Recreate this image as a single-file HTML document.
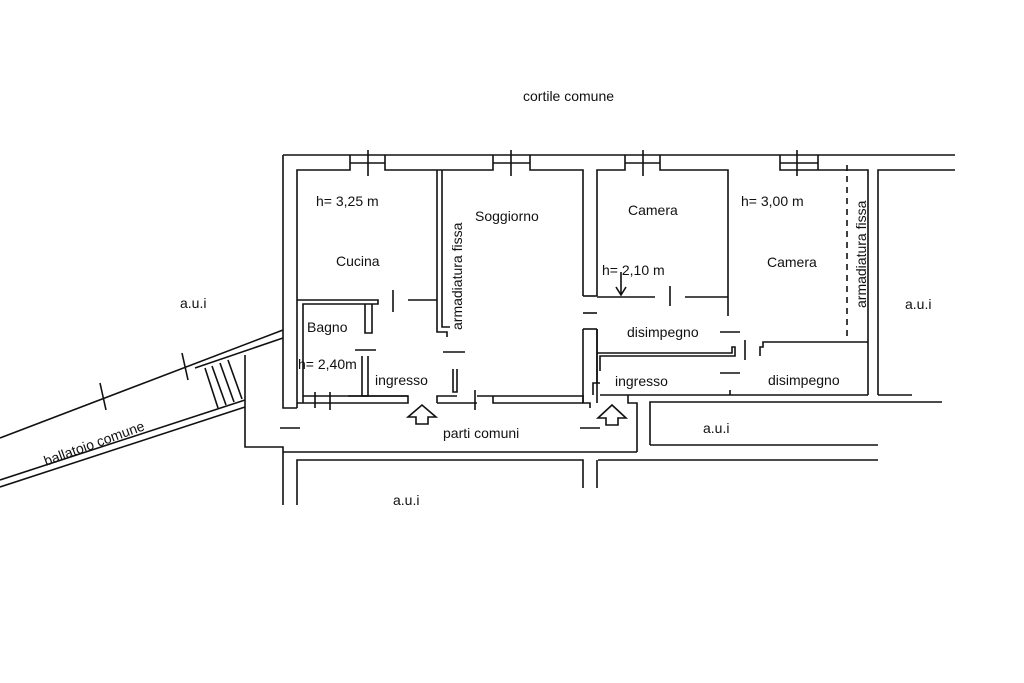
<!DOCTYPE html>
<html><head><meta charset="utf-8"><style>
html,body{margin:0;padding:0;background:#fff}
svg{display:block}
text{font-family:"Liberation Sans",sans-serif;font-size:14px;fill:#111}
</style></head><body>
<svg width="1024" height="683" viewBox="0 0 1024 683" xmlns="http://www.w3.org/2000/svg">
<g stroke="#111" stroke-width="1.6" fill="none">
<!-- top outer wall -->
<path d="M283,155 H955"/>
<path d="M283,155 V408 H297"/>
<!-- top inner wall segments -->
<path d="M297,408 V170 H350 V155"/>
<path d="M385,155 V170 H493 V155"/>
<path d="M530,155 V170 H583 V296"/>
<path d="M597,296 V170 H625 V155"/>
<path d="M660,155 V170 H728 V316"/>
<path d="M780,155 V170 H868 V342"/>
<path d="M818,155 V170"/>
<!-- windows -->
<path d="M350,163 H385 M368,150 V176 M493,163 H530 M511,150 V176 M625,163 H660 M643,150 V176 M780,163 H818 M797,150 V176"/>
<!-- right a.u.i -->
<path d="M878,395 V170 H955"/>
<path d="M878,395 H912"/>
<!-- cucina / soggiorno divider -->
<path d="M437,170 V332 H447 V337"/>
<path d="M442,170 V327 H450"/>
<!-- cucina bottom / bagno top -->
<path d="M297,300 H378 V304 H303 V403"/>
<path d="M365,304 V333 H372 V304"/>
<path d="M393,290 V312"/>
<path d="M408,300 H437"/>
<path d="M355,350 H376"/>
<path d="M443,352 H465"/>
<!-- bagno right wall -->
<path d="M362,356 V396 H368 V356"/>
<path d="M453,369 V392 H457 V369"/>
<!-- bottom wall left apartment -->
<path d="M297,403 H408 V396 H303"/>
<path d="M315,392 V408 M330,392 V410"/>
<path d="M348,396 H408"/>
<path d="M437,403 V396 H457"/>
<path d="M437,403 H477"/>
<path d="M477,396 H583"/>
<path d="M475,390 V410"/>
<path d="M493,396 V403 H583"/>
<!-- soggiorno right wall lower -->
<path d="M583,329 V403 H590 V408 M597,329 V403"/>
<path d="M583,313 H597"/>
<path d="M583,329 H597"/>
<!-- camera 1 bottom -->
<path d="M583,296 H597"/>
<path d="M597,297 H655 M685,297 H728"/>
<path d="M670,286 V306"/>
<!-- disimpegno left -->
<path d="M597,353 H732 V347 H735 V356 H600 V371"/>
<path d="M597,329 V383"/>
<path d="M745,340 V360"/>
<path d="M720,332 H740"/>
<path d="M720,373 H740"/>
<path d="M760,356 V347 H763 V342 H868"/>
<path d="M868,342 V395"/>
<!-- second ingresso bottom -->
<path d="M600,395 H868 M730,390 V395"/>
<path d="M593,395 V383 H600 M583,403 V395"/>
<path d="M628,395 V403 H637 V452"/>
<!-- lower a.u.i box -->
<path d="M650,445 V402 H942"/>
<path d="M650,445 H878"/>
<path d="M598,460 H878"/>
<!-- parti comuni corridor -->
<path d="M245,355 V447 H283 V505"/>
<path d="M297,505 V460 H583 V488"/>
<path d="M283,452 H583"/>
<path d="M597,488 V460"/>
<path d="M583,452 H637"/>
<path d="M280,428 H300 M580,428 H600"/>
<!-- dashed armadiatura right -->
<path d="M847,165 V340" stroke-dasharray="6,5"/>
<!-- arrows -->
<path d="M408,417 L422,405 L436,417 H428 V424 H416 V417 Z"/>
<path d="M598,418 L612,405 L626,418 H618 V425 H606 V418 Z"/>
<!-- h=2.10 arrow -->
<path d="M621,272 V295 M616,287 L621,295 L626,287"/>
<!-- ballatoio -->
<path d="M0,438 L283,330"/>
<path d="M195,368 L283,338"/>
<path d="M0,480 L245,400"/>
<path d="M0,487 L245,407"/>
<path d="M182,353 L188,380 M100,383 L106,410"/>
<path d="M205,368 L218,408 M212,366 L226,405 M220,363 L234,402 M228,360 L242,399"/>
</g>
<text x="523" y="101" font-size="14">cortile comune</text>
<text x="316" y="206" font-size="15">h= 3,25 m</text>
<text x="336" y="266">Cucina</text>
<text x="475" y="221">Soggiorno</text>
<text x="307" y="332">Bagno</text>
<text x="298" y="369" font-size="15">h= 2,40m</text>
<text x="375" y="385">ingresso</text>
<text x="180" y="308">a.u.i</text>
<text x="628" y="215">Camera</text>
<text x="741" y="206" font-size="15">h= 3,00 m</text>
<text x="767" y="267">Camera</text>
<text x="602" y="275" font-size="8">h= 2,10 m</text>
<text x="627" y="337">disimpegno</text>
<text x="615" y="386">ingresso</text>
<text x="768" y="385">disimpegno</text>
<text x="905" y="309">a.u.i</text>
<text x="703" y="433">a.u.i</text>
<text x="443" y="438">parti comuni</text>
<text x="393" y="505">a.u.i</text>
<text transform="translate(462,330) rotate(-90)" font-size="14">armadiatura fissa</text>
<text transform="translate(866,308) rotate(-90)" font-size="14">armadiatura fissa</text>
<text transform="translate(46,466) rotate(-20)" font-size="14">ballatoio comune</text>
</svg>
</body></html>
